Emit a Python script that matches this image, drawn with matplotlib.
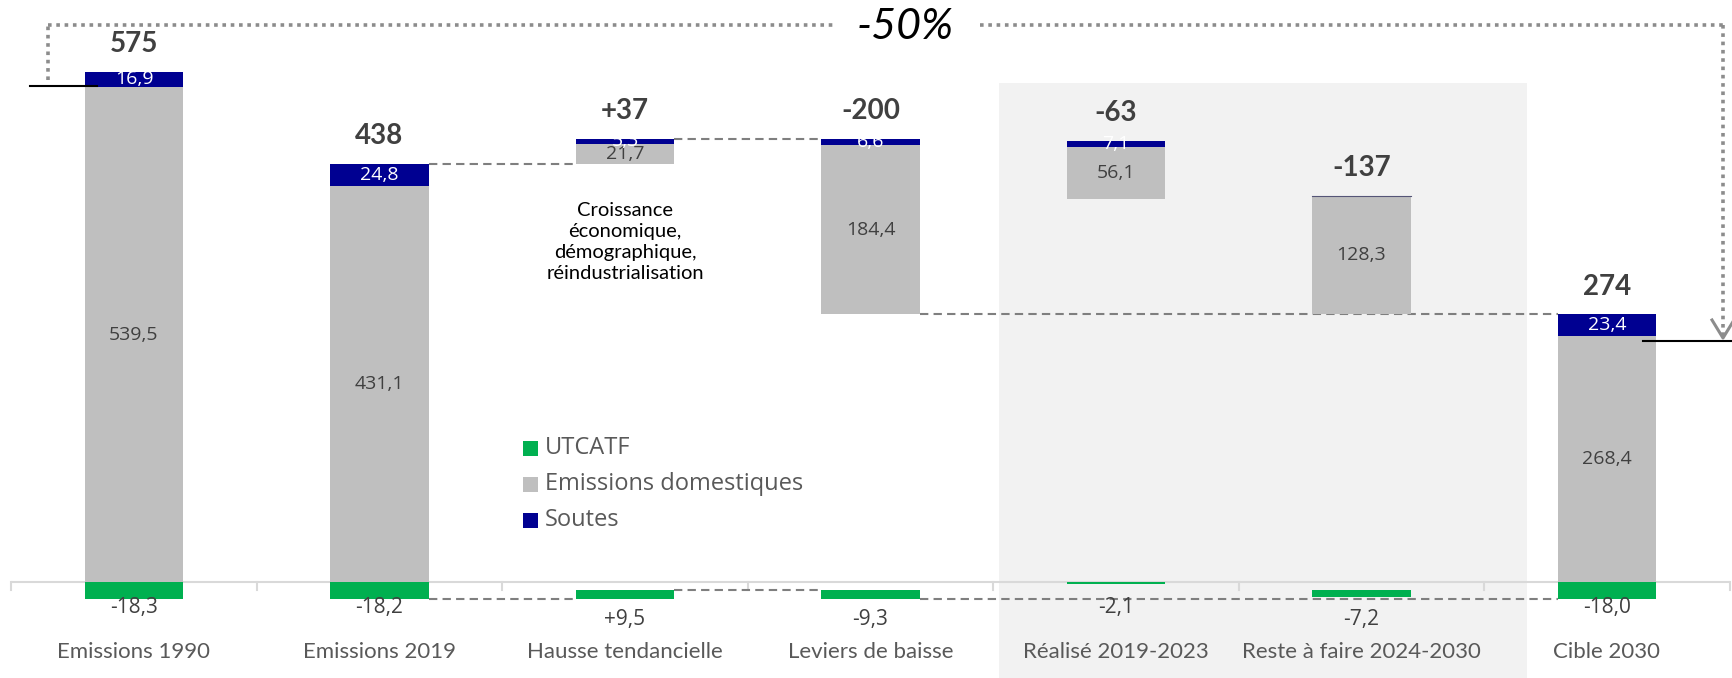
import matplotlib
matplotlib.use("Agg")
import matplotlib.pyplot as plt
from matplotlib.patches import Rectangle

# ---------------- data ----------------
categories = ["Emissions 1990", "Emissions 2019", "Hausse tendancielle", "Leviers de baisse",
              "Réalisé 2019-2023", "Reste à faire 2024-2030", "Cible 2030"]
domestiques = [539.5, 431.1, 21.7, 184.4, 56.1, 128.3, 268.4]
soutes = [16.9, 24.8, 5.3, 6.6, 7.1, 0.5, 23.4]
utcatf = [-18.3, -18.2, 9.5, -9.3, -2.1, -7.2, -18.0]
total_labels = ["575", "438", "+37", "-200", "-63", "-137", "274"]
utcatf_labels = ["-18,3", "-18,2", "+9,5", "-9,3", "-2,1", "-7,2", "-18,0"]
soutes_labels = ["16,9", "24,8", "5,3", "6,6", "7,1", "", "23,4"]
legend_items = ["UTCATF", "Emissions domestiques", "Soutes"]
annotation = "Croissance\néconomique,\ndémographique,\nréindustrialisation"
reduction_label = "-50%"

# ---------------- style ----------------
C_GREEN = "#00b050"
C_GREY = "#bfbfbf"
C_NAVY = "#000091"
C_BG = "#f2f2f2"
C_TXT = "#404040"
C_CAT = "#595959"
C_DASH = "#7f7f7f"
FONT = "Lato"
FONT2 = "Open Sans"

W, H = 1733, 678
fig = plt.figure(figsize=(W / 100, H / 100), dpi=100)
ax = fig.add_axes([0, 0, 1, 1])

# pixel <-> data mapping (layout only)
Y0, S = 582.0, 0.9175
X0, DX = 134.0, 245.5
ax.set_xlim(-X0 / DX, (W - X0) / DX)
ax.set_ylim(-(H - Y0) / S, Y0 / S)
ax.axis("off")

def py(p):  # pixel y -> data y
    return (Y0 - p) / S

def px(p):  # pixel x -> data x
    return (p - X0) / DX

BW = 0.4
n = len(categories)

# ---------------- waterfall geometry from values ----------------
dom_bottom = [0.0] * n
sou_bottom = [0.0] * n
green_top = [0.0] * n

for i in (0, 1, 6):
    dom_bottom[i] = 0.0
    sou_bottom[i] = domestiques[i]
    green_top[i] = 0.0
top1 = domestiques[1] + soutes[1]
# increase
dom_bottom[2] = top1
sou_bottom[2] = top1 + domestiques[2]
top2 = sou_bottom[2] + soutes[2]
green_top[2] = utcatf[1] + utcatf[2]
# total decrease
sou_bottom[3] = top2 - soutes[3]
dom_bottom[3] = sou_bottom[3] - domestiques[3]
green_top[3] = green_top[2]
# realised part
top4 = top2 + utcatf[4]
sou_bottom[4] = top4 - soutes[4]
dom_bottom[4] = sou_bottom[4] - domestiques[4]
green_top[4] = 0.0
# remaining part
dom_bottom[5] = dom_bottom[3]
sou_bottom[5] = dom_bottom[5] + domestiques[5]
green_top[5] = green_top[3]

green_h = [abs(v) for v in utcatf]
green_base = [green_top[i] - green_h[i] for i in range(n)]
green_base[2] = utcatf[1]

x = list(range(n))

# background for sub-waterfall
ax.add_patch(Rectangle((px(999), ax.get_ylim()[0]), px(1527) - px(999),
                       py(83) - ax.get_ylim()[0], facecolor=C_BG, edgecolor="none", zorder=0))

# axis line + ticks
ax.plot([-0.5, n - 0.5], [0, 0], color="#d9d9d9", lw=1.5, zorder=1, solid_capstyle="butt")
for t in [i - 0.5 for i in range(n + 1)]:
    ax.plot([t, t], [0, -9], color="#d9d9d9", lw=1.5, zorder=1)

# bars
ax.bar(x, domestiques, BW, bottom=dom_bottom, color=C_GREY, zorder=2)
ax.bar(x, soutes, BW, bottom=sou_bottom, color=C_NAVY, zorder=2)
ax.bar(x, green_h, BW, bottom=green_base, color=C_GREEN, zorder=2)
# thin soutes edge on the "reste a faire" bar
ax.plot([5 - BW / 2, 5 + BW / 2], [sou_bottom[5] + soutes[5]] * 2, color="#555577",
        lw=0.8, zorder=2.5)

# connectors
dash = dict(color=C_DASH, lw=1.5, ls=(0, (4, 2.5)), zorder=1.5)
ax.plot([1 + BW / 2, 2 - BW / 2], [top1, top1], **dash)
ax.plot([2 + BW / 2, 3 - BW / 2], [top2, top2], **dash)
ax.plot([3 + BW / 2, 6 - BW / 2], [dom_bottom[3], dom_bottom[3]], **dash)
ax.plot([1 + BW / 2, 2 - BW / 2], [utcatf[1], utcatf[1]], **dash)
ax.plot([2 + BW / 2, 3 - BW / 2], [green_top[2], green_top[2]], **dash)
ax.plot([3 + BW / 2, 6 - BW / 2], [utcatf[6], utcatf[6]], **dash)

# labels
for i in range(n):
    top = sou_bottom[i] + soutes[i]
    ax.text(i, top + 30, total_labels[i], ha="center", va="center", fontsize=20,
            fontweight="bold", color=C_TXT, family=FONT, zorder=5)
    ax.text(i, dom_bottom[i] + domestiques[i] / 2, f"{domestiques[i]:.1f}".replace(".", ","),
            ha="center", va="center", fontsize=14, color=C_TXT, family=FONT2, zorder=5)
    if soutes_labels[i]:
        ax.text(i, sou_bottom[i] + soutes[i] / 2, soutes_labels[i], ha="center", va="center",
                fontsize=14, color="white", family=FONT2, zorder=5)
    row = 1 if i in (2, 3, 5) else 0
    ax.text(i, py(607 + 13 * row), utcatf_labels[i], ha="center", va="center", fontsize=15,
            color=C_TXT, family=FONT2, zorder=5)
    ax.text(i, py(652), categories[i], ha="center", va="center", fontsize=16,
            color=C_CAT, family=FONT, zorder=5)

# annotation
ax.text(2, py(242), annotation, ha="center", va="center", fontsize=14.5, color="black",
        family=FONT, linespacing=1.3, zorder=5)

# legend
leg_colors = [C_GREEN, C_GREY, C_NAVY]
for k, (lab, col) in enumerate(zip(legend_items, leg_colors)):
    yc = [448, 484, 520][k]
    ax.add_patch(Rectangle((px(523), py(yc + 7.5)), px(538) - px(523), 15 / S,
                           facecolor=col, edgecolor="none", zorder=5))
    ax.text(px(545), py(yc), lab, ha="left", va="center", fontsize=17, color=C_CAT,
            family=FONT2, zorder=5)

# -50% bracket
dot = dict(color="#8c8c8c", lw=2.6, ls=(0, (1, 1.3)), zorder=4, solid_capstyle="butt")
ax.plot([px(48), px(48)], [py(80), py(25)], **dot)
ax.plot([px(48), px(835)], [py(25), py(25)], **dot)
ax.plot([px(980), px(1723)], [py(25), py(25)], **dot)
ax.plot([px(1723), px(1723)], [py(25), py(336)], **dot)
ax.plot([px(1712), px(1723), px(1734)], [py(320), py(338), py(320)], color="#8c8c8c",
        lw=2.2, zorder=4)
ax.text(px(905), py(27), reduction_label, ha="center", va="center", fontsize=31,
        style="italic", color="black", family=FONT, zorder=5)

# reference black lines
ax.plot([px(30), px(97)], [py(86), py(86)], color="black", lw=1.5, zorder=6)
ax.plot([px(1643), px(1733)], [py(341), py(341)], color="black", lw=1.5, zorder=6)

fig.savefig("out.png", dpi=100, facecolor="white")
